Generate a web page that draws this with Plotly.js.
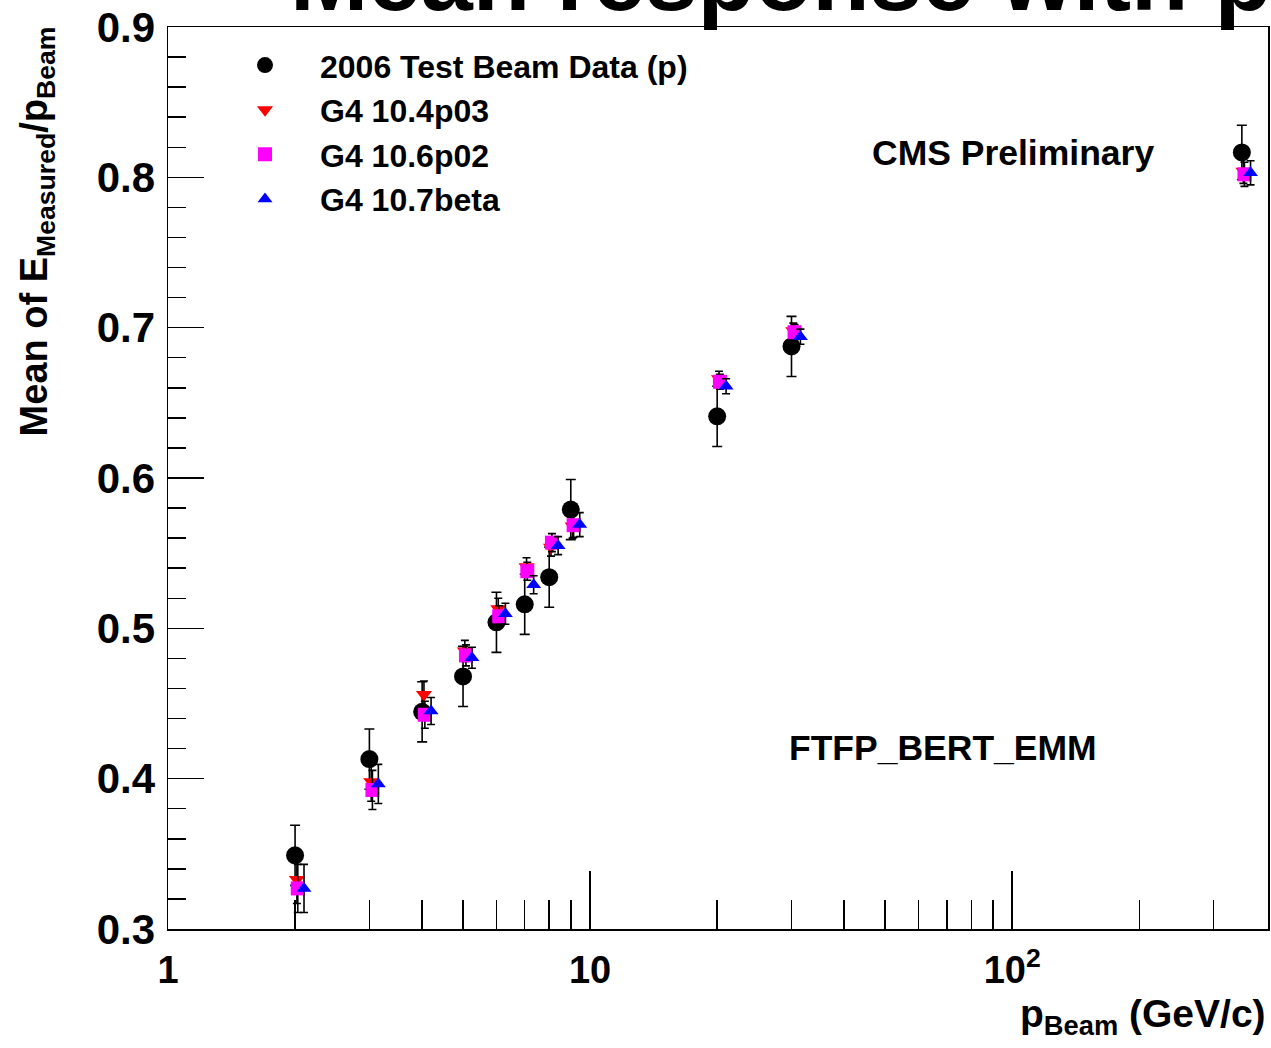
<!DOCTYPE html>
<html>
<head>
<meta charset="utf-8">
<script src="https://cdn.plot.ly/plotly-3.0.1.min.js"></script>
<style>html,body{margin:0;padding:0;background:#fff;}</style>
</head>
<body>
<div id="chart" style="width:1271px;height:1048px;"></div>
<script>
// ---- data ----
const xData   = [2, 3, 4, 5, 6, 7, 8, 9, 20, 30, 350];
const yData   = [0.349, 0.413, 0.4445, 0.468, 0.504, 0.516, 0.534, 0.579, 0.641, 0.6875, 0.8166];
const errData = [0.02, 0.02, 0.02, 0.02, 0.02, 0.02, 0.02, 0.02, 0.02, 0.02, 0.018];

const xG4104 = [2.02, 3.03, 4.04, 5.05, 6.06, 7.07, 8.08, 9.09, 20.2, 30.3, 353];
const yG4104 = [0.333, 0.398, 0.456, 0.485, 0.513, 0.541, 0.554, 0.568, 0.666, 0.698, 0.804];

const xG4106 = [2.03, 3.05, 4.06, 5.08, 6.09, 7.1, 8.12, 9.14, 20.3, 30.5, 355];
const yG4106 = [0.327, 0.3925, 0.4425, 0.482, 0.508, 0.538, 0.557, 0.5686, 0.664, 0.697, 0.802];

const xG4107 = [2.1, 3.15, 4.2, 5.25, 6.3, 7.35, 8.4, 9.45, 21, 31.5, 367];
const yG4107 = [0.327, 0.3965, 0.445, 0.4804, 0.5097, 0.529, 0.555, 0.569, 0.661, 0.694, 0.803];

const errG4 = [0.016, 0.013, 0.009, 0.007, 0.007, 0.006, 0.006, 0.008, 0.005, 0.005, 0.008];

const seriesNames = ['2006 Test Beam Data (p)', 'G4 10.4p03', 'G4 10.6p02', 'G4 10.7beta'];
const xTickVals = [1, 10, 100];
const xTickText = ['1', '10', '10<sup>2</sup>'];
const xMinorVals = [2,3,4,5,6,7,8,9,20,30,40,50,60,70,80,90,200,300];

// ---- styling ----
const FONT = 'Liberation Sans, Arial, Helvetica, sans-serif';
function errBar(arr, w) {
  return {type: 'data', array: arr, visible: true, color: '#000', thickness: 1.6, width: w};
}

const traces = [
  {x: xData, y: yData, name: seriesNames[0], type: 'scatter', mode: 'markers',
   marker: {symbol: 'circle', size: 18, color: '#000'}, error_y: errBar(errData, 5)},
  {x: xG4104, y: yG4104, name: seriesNames[1], type: 'scatter', mode: 'markers',
   marker: {symbol: 'triangle-down', size: 14, color: '#ff0000'}, error_y: errBar(errG4, 4)},
  {x: xG4106, y: yG4106, name: seriesNames[2], type: 'scatter', mode: 'markers',
   marker: {symbol: 'square', size: 14, color: '#ff00ff'}, error_y: errBar(errG4, 4)},
  {x: xG4107, y: yG4107, name: seriesNames[3], type: 'scatter', mode: 'markers',
   marker: {symbol: 'triangle-up', size: 13, color: '#0000ff'}, error_y: errBar(errG4, 4)}
];

const layout = {
  width: 1271, height: 1048,
  margin: {l: 168, r: 3, t: 27, b: 119, pad: 0},
  paper_bgcolor: '#fff', plot_bgcolor: '#fff',
  font: {family: FONT, color: '#000'},
  title: {
    text: 'Mean response with p',
    font: {family: FONT, size: 94, weight: 'bold', color: '#000'},
    xref: 'container', x: 290 / 1271, xanchor: 'left',
    yref: 'container', y: 1 - 10 / 1048, yanchor: 'bottom',
    automargin: false
  },
  showlegend: true,
  legend: {
    x: 0.0382, y: 0.988, xanchor: 'left', yanchor: 'top',
    bgcolor: 'rgba(0,0,0,0)', borderwidth: 0,
    font: {family: FONT, size: 32, weight: 'bold', color: '#000'},
    itemwidth: 100, tracegroupgap: 0
  },
  xaxis: {
    type: 'log', range: [0, 2.606],
    showline: true, linecolor: '#000', linewidth: 1.5, mirror: true,
    ticks: 'inside', ticklen: 58, tickwidth: 1.5, tickcolor: '#000',
    tickmode: 'array', tickvals: xTickVals, ticktext: xTickText,
    tickfont: {family: FONT, size: 38, weight: 'bold', color: '#000'},
    ticklabelstandoff: 7,
    minor: {tickmode: 'array', tickvals: xMinorVals, ticks: 'inside', ticklen: 29, tickwidth: 1.5, tickcolor: '#000', showgrid: false},
    showgrid: false, zeroline: false, fixedrange: true
  },
  yaxis: {
    range: [0.3, 0.9],
    showline: true, linecolor: '#000', linewidth: 1.5, mirror: true,
    ticks: 'inside', ticklen: 36, tickwidth: 1.5, tickcolor: '#000',
    tick0: 0.3, dtick: 0.1, tickformat: '.1f',
    tickfont: {family: FONT, size: 42, weight: 'bold', color: '#000'},
    ticklabelstandoff: 3,
    minor: {dtick: 0.02, ticks: 'inside', ticklen: 18, tickwidth: 1.5, tickcolor: '#000', showgrid: false},
    showgrid: false, zeroline: false, fixedrange: true
  },
  annotations: [
    {text: 'CMS Preliminary', xref: 'paper', yref: 'paper', x: 0.768, y: 0.8603,
     xanchor: 'center', yanchor: 'middle', showarrow: false,
     font: {family: FONT, size: 35.5, weight: 'bold', color: '#000'}},
    {text: 'FTFP_BERT_EMM', xref: 'paper', yref: 'paper', x: 0.7045, y: 0.2007,
     xanchor: 'center', yanchor: 'middle', showarrow: false,
     font: {family: FONT, size: 35.5, weight: 'bold', color: '#000'}},
    {text: 'Mean of E<sub>Measured</sub>/p<sub>Beam</sub>', xref: 'paper', yref: 'paper',
     x: -0.119, y: 1.003, xanchor: 'center', yanchor: 'top', textangle: -90, showarrow: false,
     font: {family: FONT, size: 38, weight: 'bold', color: '#000'}},
    {text: 'p<sub>Beam</sub> (GeV/c)', xref: 'paper', yref: 'paper',
     x: 1, y: -0.068, xanchor: 'right', yanchor: 'top', showarrow: false,
     font: {family: FONT, size: 39, weight: 'bold', color: '#000'}}
  ]
};

Plotly.newPlot('chart', traces, layout, {displayModeBar: false, staticPlot: true});
</script>
</body>
</html>
